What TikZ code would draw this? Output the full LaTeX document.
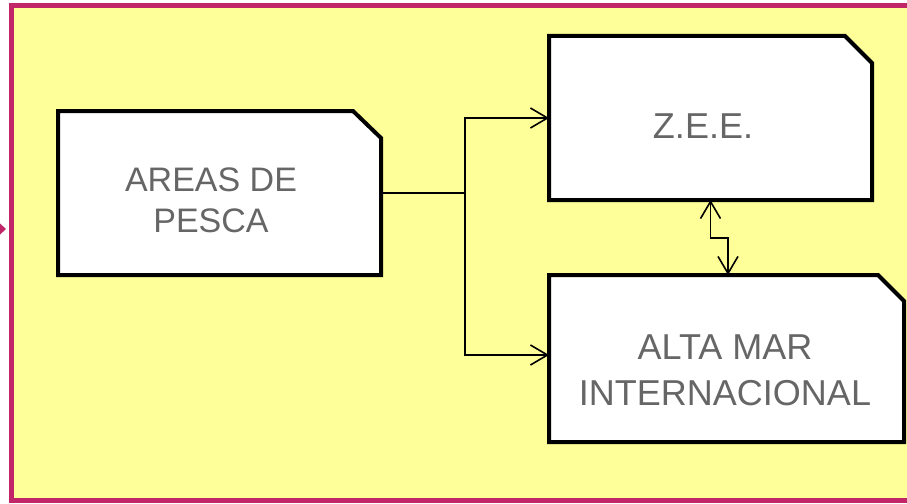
\documentclass[tikz,border=0pt]{standalone}
\usepackage{fontspec}
\setmainfont{Liberation Sans}
\usetikzlibrary{arrows.meta,calc}
\definecolor{bgyellow}{RGB}{255,255,153}
\definecolor{framemag}{RGB}{192,38,104}
\definecolor{txtgray}{RGB}{102,102,102}
\tikzset{
  boxarea/.style={draw=none,inner sep=0pt,outer sep=0pt,rectangle},
  boxline/.style={draw=black,fill=white,line width=4pt,line join=miter},
  lbl/.style={text=txtgray,align=center,inner sep=0pt},
  conn/.style={draw=black,line width=1.6pt,line join=miter},
  mytip/.tip={Straight Barb[length=17pt,width=20pt,line width=1.6pt]}
}
\begin{document}
\begin{tikzpicture}[x=1pt,y=-1pt]
\useasboundingbox (0,0) rectangle (907,503);
% background frame
\draw[fill=bgyellow,draw=framemag,line width=5pt] (11.5,6) rectangle (925,500.5);
\fill[framemag] (0,223.5) -- (6,229) -- (0,234.5) -- cycle;
% box areas
\node[boxarea,minimum width=323pt,minimum height=164pt] (a) at (219.5,193) {};
\node[boxarea,minimum width=323pt,minimum height=164pt] (b) at (710.5,118) {};
\node[boxarea,minimum width=355pt,minimum height=167pt] (c) at (726.5,358.5) {};
% box outlines with cut corner
\path[boxline] (a.south west) -- (a.north west) -- ([xshift=-28pt]a.north east) -- ([yshift=-27pt]a.north east) -- (a.south east) -- cycle;
\path[boxline] (b.south west) -- (b.north west) -- ([xshift=-27pt]b.north east) -- ([yshift=-27pt]b.north east) -- (b.south east) -- cycle;
\path[boxline] (c.south west) -- (c.north west) -- ([xshift=-26pt]c.north east) -- ([yshift=-26pt]c.north east) -- (c.south east) -- cycle;
% labels
\node[lbl,font=\fontsize{34}{41}\selectfont] (ta) at (211,200) {AREAS DE\\PESCA};
\node[lbl,font=\fontsize{36}{44}\selectfont] (tb) at (703,126) {Z.E.E.};
\node[lbl,font=\fontsize{36}{46}\selectfont] (tc) at (725,370) {ALTA MAR\\INTERNACIONAL};
% connectors
\coordinate (j) at (465,193);
\draw[conn,-mytip] (a.east) -- (j) |- (b.west);
\draw[conn,-mytip] (j) |- ([yshift=3.5pt]c.west);
\draw[conn,mytip-mytip] (b.south) -- ++(0,38) -| ([xshift=1.5pt]c.north);
\end{tikzpicture}
\end{document}
